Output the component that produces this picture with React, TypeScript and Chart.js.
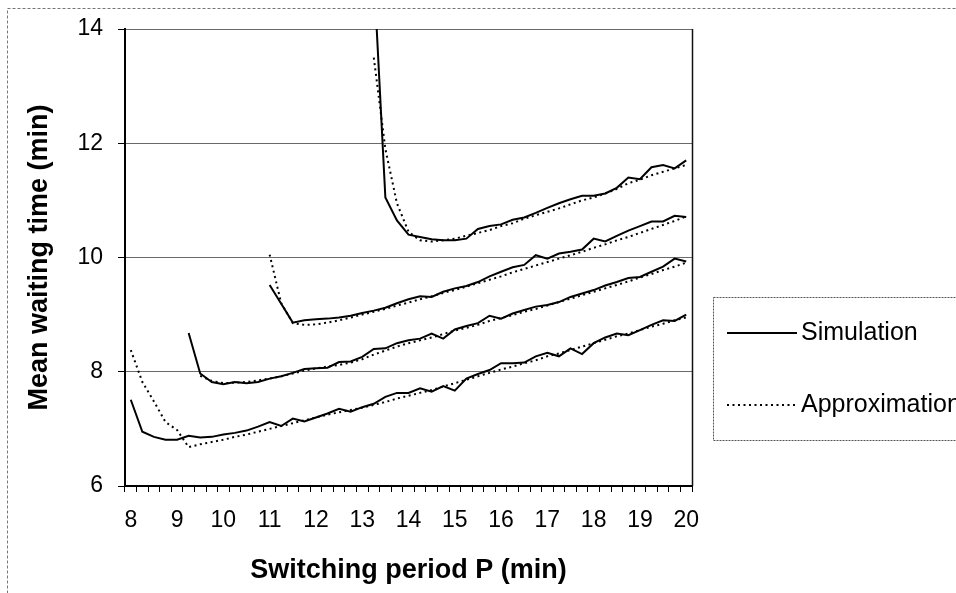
import React, { useEffect, useRef } from 'react';
import { Chart, registerables } from 'chart.js';

Chart.register(...registerables);

// Switching period P (min), category axis
const categories = [
  8, 8.25, 8.5, 8.75, 9, 9.25, 9.5, 9.75, 10, 10.25, 10.5, 10.75, 11, 11.25, 11.5, 11.75,
  12, 12.25, 12.5, 12.75, 13, 13.25, 13.5, 13.75, 14, 14.25, 14.5, 14.75, 15, 15.25, 15.5, 15.75,
  16, 16.25, 16.5, 16.75, 17, 17.25, 17.5, 17.75, 18, 18.25, 18.5, 18.75, 19, 19.25, 19.5, 19.75, 20,
];
const xTickLabels = [8, 9, 10, 11, 12, 13, 14, 15, 16, 17, 18, 19, 20];
const yTickValues = [6, 8, 10, 12, 14];

// Mean waiting time (min) — four configurations, each with simulation and approximation
const sim1Start = 8;
const sim1 = [7.51, 6.95, 6.86, 6.81, 6.81, 6.88, 6.85, 6.86, 6.9, 6.93, 6.97, 7.04, 7.12, 7.05, 7.18, 7.13, 7.2, 7.27, 7.35, 7.3, 7.38, 7.44, 7.56, 7.63, 7.63, 7.71, 7.65, 7.75, 7.67, 7.88, 7.96, 8.03, 8.15, 8.15, 8.16, 8.27, 8.33, 8.27, 8.41, 8.31, 8.5, 8.6, 8.67, 8.64, 8.73, 8.82, 8.9, 8.89, 9.0];
const approx1Start = 8;
const approx1 = [8.38, 7.82, 7.48, 7.12, 6.98, 6.68, 6.73, 6.77, 6.81, 6.86, 6.9, 6.95, 7.0, 7.05, 7.1, 7.15, 7.2, 7.25, 7.29, 7.33, 7.37, 7.42, 7.47, 7.53, 7.58, 7.63, 7.68, 7.74, 7.8, 7.86, 7.92, 7.98, 8.04, 8.09, 8.15, 8.2, 8.27, 8.32, 8.38, 8.44, 8.5, 8.56, 8.62, 8.67, 8.73, 8.79, 8.84, 8.9, 8.95];

const sim2Start = 9.25;
const sim2 = [8.68, 7.97, 7.82, 7.78, 7.82, 7.8, 7.82, 7.88, 7.92, 7.98, 8.05, 8.06, 8.07, 8.17, 8.18, 8.26, 8.4, 8.41, 8.5, 8.55, 8.58, 8.67, 8.58, 8.74, 8.8, 8.85, 8.98, 8.93, 9.02, 9.08, 9.14, 9.17, 9.22, 9.31, 9.37, 9.43, 9.51, 9.57, 9.64, 9.66, 9.75, 9.84, 9.98, 9.93];
const approx2Start = 9.5;
const approx2 = [7.93, 7.84, 7.8, 7.81, 7.82, 7.85, 7.88, 7.92, 7.97, 8.02, 8.06, 8.09, 8.12, 8.16, 8.22, 8.3, 8.37, 8.44, 8.5, 8.55, 8.6, 8.66, 8.72, 8.77, 8.82, 8.89, 8.94, 8.99, 9.05, 9.1, 9.16, 9.22, 9.28, 9.34, 9.4, 9.46, 9.52, 9.58, 9.65, 9.71, 9.78, 9.84, 9.91];

const sim3Start = 11;
const sim3 = [9.52, 9.19, 8.86, 8.9, 8.92, 8.93, 8.95, 8.98, 9.03, 9.07, 9.12, 9.2, 9.27, 9.32, 9.31, 9.4, 9.46, 9.5, 9.57, 9.67, 9.75, 9.83, 9.87, 10.04, 9.98, 10.07, 10.1, 10.14, 10.33, 10.28, 10.38, 10.47, 10.55, 10.63, 10.63, 10.73, 10.71];
const approx3Start = 11;
const approx3 = [10.05, 9.2, 8.85, 8.82, 8.83, 8.86, 8.9, 8.95, 9.0, 9.05, 9.1, 9.16, 9.21, 9.27, 9.32, 9.38, 9.43, 9.49, 9.55, 9.61, 9.67, 9.74, 9.8, 9.86, 9.92, 9.98, 10.04, 10.1, 10.17, 10.23, 10.3, 10.36, 10.43, 10.5, 10.57, 10.64, 10.72];

const sim4Start = 13.25;
const sim4 = [15.0, 11.05, 10.65, 10.4, 10.36, 10.32, 10.3, 10.3, 10.33, 10.5, 10.55, 10.58, 10.66, 10.7, 10.78, 10.87, 10.95, 11.02, 11.08, 11.08, 11.12, 11.22, 11.4, 11.37, 11.58, 11.62, 11.56, 11.7];
const approx4Start = 13.25;
const approx4 = [13.5, 11.9, 10.95, 10.45, 10.3, 10.28, 10.3, 10.33, 10.38, 10.43, 10.48, 10.55, 10.6, 10.68, 10.74, 10.8, 10.86, 10.93, 11.0, 11.05, 11.12, 11.2, 11.3, 11.36, 11.44, 11.5, 11.56, 11.62];

const legendLabels = ['Simulation', 'Approximation'];

const FONT = '"Liberation Sans", Arial, sans-serif';

function alignSeries(start: number, values: number[]): (number | null)[] {
  const idx = categories.indexOf(start);
  return categories.map((_, i) => (i >= idx && i - idx < values.length ? values[i - idx] : null));
}

const SOLID: number[] = [];
const DOTTED = [2, 3.5];

const framePlugin = {
  id: 'framePlugin',
  afterDraw(chart: any) {
    const { ctx, chartArea } = chart;
    ctx.save();
    // plot area right border
    ctx.strokeStyle = '#111';
    ctx.lineWidth = 1.5;
    ctx.beginPath();
    ctx.moveTo(chartArea.right + 0.5, chartArea.top);
    ctx.lineTo(chartArea.right + 0.5, chartArea.bottom);
    ctx.stroke();

    // outer chart frame (dashed, clipped by page edge)
    ctx.strokeStyle = '#777';
    ctx.lineWidth = 1;
    ctx.setLineDash([3, 2]);
    ctx.strokeRect(7.5, 8.5, 1000, 700);
    ctx.setLineDash([]);

    // legend box
    const lx = 713.5, ly = 297.5, lw = 300, lh = 143;
    ctx.strokeStyle = '#555';
    ctx.lineWidth = 1;
    ctx.setLineDash([2, 1]);
    ctx.strokeRect(lx, ly, lw, lh);
    ctx.setLineDash([]);

    const rows = [
      { y: 333, dash: SOLID, label: legendLabels[0] },
      { y: 405, dash: DOTTED, label: legendLabels[1] },
    ];
    rows.forEach((r) => {
      ctx.strokeStyle = '#000';
      ctx.lineWidth = 2;
      ctx.setLineDash(r.dash);
      ctx.beginPath();
      ctx.moveTo(727, r.y);
      ctx.lineTo(797, r.y);
      ctx.stroke();
      ctx.setLineDash([]);
      ctx.fillStyle = '#000';
      ctx.font = `25px ${FONT}`;
      ctx.textBaseline = 'middle';
      ctx.textAlign = 'left';
      ctx.fillText(r.label, 801, r.y);
    });
    ctx.restore();
  },
};

export default function App() {
  const ref = useRef<HTMLCanvasElement | null>(null);

  useEffect(() => {
    if (!ref.current) return;
    const mk = (label: string, data: (number | null)[], dash: number[]) => ({
      label,
      data,
      borderColor: '#000',
      backgroundColor: '#000',
      borderWidth: 2,
      borderDash: dash,
      pointRadius: 0,
      pointHoverRadius: 0,
      tension: 0,
      spanGaps: false,
      fill: false,
    });
    const chart = new Chart(ref.current, {
      type: 'line',
      data: {
        labels: categories.map(String),
        datasets: [
          mk('Simulation', alignSeries(sim1Start, sim1), SOLID),
          mk('Approximation', alignSeries(approx1Start, approx1), DOTTED),
          mk('Simulation 2', alignSeries(sim2Start, sim2), SOLID),
          mk('Approximation 2', alignSeries(approx2Start, approx2), DOTTED),
          mk('Simulation 3', alignSeries(sim3Start, sim3), SOLID),
          mk('Approximation 3', alignSeries(approx3Start, approx3), DOTTED),
          mk('Simulation 4', alignSeries(sim4Start, sim4), SOLID),
          mk('Approximation 4', alignSeries(approx4Start, approx4), DOTTED),
        ],
      },
      options: {
        animation: false,
        responsive: false,
        devicePixelRatio: 1,
        layout: { padding: { top: 29, right: 264, bottom: 0, left: 0 } },
        plugins: { legend: { display: false }, tooltip: { enabled: false } },
        scales: {
          x: {
            type: 'category',
            offset: true,
            grid: { offset: true, drawOnChartArea: false, tickLength: 6, color: '#000', lineWidth: 1 },
            border: { display: true, color: '#000', width: 2 },
            ticks: {
              autoSkip: false,
              maxRotation: 0,
              minRotation: 0,
              padding: 15,
              color: '#000',
              font: { family: FONT, size: 23 },
              callback: (_v: any, i: number) => (xTickLabels.includes(categories[i]) ? String(categories[i]) : ''),
            },
            title: {
              display: true,
              text: 'Switching period P (min)',
              color: '#000',
              font: { family: FONT, size: 27, weight: 'bold' },
              padding: { top: 0, bottom: 6 },
            },
            afterFit: (s: any) => {
              s.height = 107;
            },
          },
          y: {
            min: 6,
            max: 14,
            afterBuildTicks: (s: any) => {
              s.ticks = yTickValues.map((v) => ({ value: v }));
            },
            ticks: { padding: 15, color: '#000', font: { family: FONT, size: 23 } },
            grid: { color: '#6a6a6a', tickColor: '#000', tickLength: 7, lineWidth: 1 },
            border: { color: '#000', width: 2 },
            title: {
              display: true,
              text: 'Mean waiting time (min)',
              color: '#000',
              font: { family: FONT, size: 27, weight: 'bold' },
              padding: { top: 23, bottom: 0 },
            },
            afterFit: (s: any) => {
              s.width = 125;
            },
          },
        },
      },
      plugins: [framePlugin],
    });
    return () => chart.destroy();
  }, []);

  return (
    <div style={{ position: 'fixed', left: 0, top: 0, width: 956, height: 593, background: '#fff', overflow: 'hidden' }}>
      <canvas ref={ref} width={956} height={593} style={{ width: 956, height: 593, display: 'block' }} />
    </div>
  );
}
